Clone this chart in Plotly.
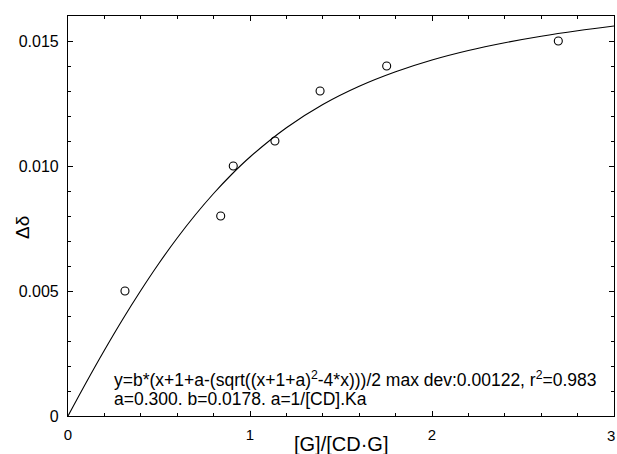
import plotly.graph_objects as go

# Measured data points
ratio_x = [0.313, 0.839, 0.908, 1.137, 1.385, 1.751, 2.694]
delta_y = [0.0050, 0.0080, 0.0100, 0.0110, 0.0130, 0.0140, 0.0150]

# Fitted curve
curve_x = [0.0, 0.1, 0.2, 0.3, 0.4, 0.5, 0.6, 0.7, 0.8, 0.9, 1.0, 1.2, 1.4, 1.6, 1.8, 2.0, 2.2, 2.4, 2.6, 2.8, 3.0]
curve_y = [0.0, 0.00134, 0.00263, 0.00386, 0.00502, 0.00611, 0.00712, 0.00805, 0.00890, 0.00967,
           0.01036, 0.01153, 0.01246, 0.01319, 0.01377, 0.01424, 0.01462, 0.01493, 0.01519, 0.01541, 0.01560]

x_ticks = [0, 1, 2, 3]
x_tick_text = ["0", "1", "2", ""]   # the last label is drawn as an annotation so it fits at the edge
x_last_label = "3"
y_ticks = [0, 0.005, 0.010, 0.015]
y_tick_text = ["0", "0.005", "0.010", "0.015"]

fit_line1 = "y=b*(x+1+a-(sqrt((x+1+a)<sup>2</sup>-4*x)))/2 max dev:0.00122, r<sup>2</sup>=0.983"
fit_line2 = "a=0.300. b=0.0178. a=1/[CD].Ka"

FONT = "Liberation Sans, Arial, sans-serif"

fig = go.Figure()
fig.add_trace(go.Scatter(x=curve_x, y=curve_y, mode="lines", line=dict(color="black", width=1.1, shape="spline"),
                         hoverinfo="skip"))
fig.add_trace(go.Scatter(x=ratio_x, y=delta_y, mode="markers",
                         marker=dict(symbol="circle-open", size=8, color="black", line=dict(width=1.1))))

fig.update_layout(
    template="none",
    width=617, height=454,
    margin=dict(l=68, r=3, t=16, b=38),
    plot_bgcolor="white", paper_bgcolor="white",
    showlegend=False,
    font=dict(family=FONT, size=16, color="black"),
)
fig.update_xaxes(
    automargin=False,
    range=[0, 3], tickvals=x_ticks, ticktext=x_tick_text, ticks="inside", ticklen=5, tickwidth=1,
    tickcolor="black", showline=True, linecolor="black", linewidth=1.2, mirror="allticks", showgrid=False,
    zeroline=False,
    minor=dict(dtick=0.2, ticks="inside", ticklen=3, tickcolor="black", showgrid=False),
    tickfont=dict(size=15), ticklabelstandoff=5,
)
fig.update_yaxes(
    automargin=False,
    range=[0, 0.0160], tickvals=y_ticks, ticktext=y_tick_text, ticks="inside", ticklen=5, tickwidth=1,
    tickcolor="black", showline=True, linecolor="black", linewidth=1.2, mirror="allticks", showgrid=False,
    zeroline=False,
    minor=dict(dtick=0.001, ticks="inside", ticklen=3, tickcolor="black", showgrid=False),
    tickfont=dict(size=16), ticklabelstandoff=5,
)

fig.add_annotation(text=x_last_label, xref="x", yref="paper", x=x_ticks[-1], y=0, xshift=-3, yshift=-19,
                   xanchor="center", yanchor="middle", showarrow=False, font=dict(size=15))
fig.add_annotation(text="[G]/[CD·G]", xref="paper", yref="paper", x=0.5, y=0, yshift=-28,
                   xanchor="center", yanchor="middle", showarrow=False, font=dict(size=20))
fig.add_annotation(text="Δδ", xref="paper", yref="paper", x=0, xshift=-46, y=0.47,
                   xanchor="center", yanchor="middle", textangle=-90, showarrow=False, font=dict(size=19))
fig.add_annotation(text=fit_line1, xref="x", yref="y", x=0.24, y=0.00148, xanchor="left", yanchor="middle",
                   align="left", showarrow=False, font=dict(size=17.5))
fig.add_annotation(text=fit_line2, xref="x", yref="y", x=0.24, y=0.00070, xanchor="left", yanchor="middle",
                   align="left", showarrow=False, font=dict(size=17.5))

fig.write_html("out.html", config={"displayModeBar": False},
               post_script="document.body.style.margin='0';document.body.style.padding='0';")
